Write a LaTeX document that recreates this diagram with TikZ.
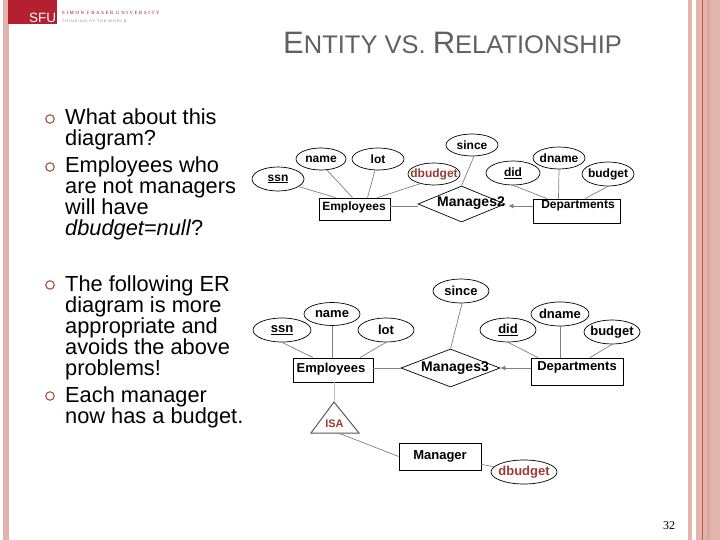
\documentclass[tikz,border=0pt]{standalone}
\usepackage{fontspec}
\setmainfont{Liberation Sans}
\newfontfamily\pageserif{Liberation Serif}
\newfontfamily\logoname[LetterSpace=34]{Liberation Serif}
\newfontfamily\logomotto[LetterSpace=30]{Liberation Sans}
\usetikzlibrary{shapes.geometric, calc, arrows.meta}
\definecolor{barpink}{HTML}{E3B4AE}
\definecolor{bardark}{HTML}{DCA59E}
\definecolor{barred}{HTML}{BF5A45}
\definecolor{sfured}{HTML}{B4202F}
\definecolor{dotbrown}{HTML}{A4533F}
\definecolor{extrared}{HTML}{9C3B33}
\definecolor{linkgray}{HTML}{808080}
\tikzset{
  attr/.style={ellipse, draw, inner xsep=-12pt, inner ysep=-5pt, line width=0.7pt},
  entity/.style={rectangle, draw, inner sep=0pt, line width=0.8pt},
  rel/.style={diamond, draw, inner sep=0pt, line width=0.7pt},
  reltext/.style={inner sep=0pt},
  link/.style={draw=linkgray, line width=0.7pt},
  arrowlink/.style={link, -{Latex[length=5pt, width=5pt]}},
  bullet/.style={circle, draw=dotbrown, line width=1.1pt, minimum size=8.5pt, inner sep=0pt},
  body/.style={anchor=north west, inner sep=0pt, align=left, font=\fontsize{21.8}{21}\selectfont},
  firstfont/.style={font=\fontsize{12}{14}\selectfont\bfseries},
  secondfont/.style={font=\fontsize{13}{15}\selectfont\bfseries},
  relfont/.style={font=\fontsize{14}{16}\selectfont\bfseries}
}
\begin{document}
\begin{tikzpicture}[x=1pt, y=-1pt]
  \useasboundingbox (0, 0) rectangle (720, 540);
  \fill[barpink] (3, 0) rectangle (9, 540);
  \fill[barpink] (688, 0) rectangle (692, 540);
  \fill[barpink] (696, 0) rectangle (720, 540);
  \fill[bardark] (707, 0) rectangle (710, 540);
  \fill[barred] (702, 0) rectangle (703, 540);

  \fill[sfured] (8, 0) rectangle (57, 24);
  \node (sfu) [text=white, inner sep=0pt, font=\fontsize{13.5}{13.5}\selectfont] at (42.5, 17.5) {SFU};
  \node (sfuname) [anchor=west, inner sep=0pt, text=sfured!70!black, font=\logoname\fontsize{4.8}{4.8}\selectfont] at (62, 13) {SIMON FRASER UNIVERSITY};
  \node (sfumotto) [anchor=west, inner sep=0pt, text=gray, font=\logomotto\fontsize{3.6}{3.6}\selectfont] at (62, 21) {THINKING OF THE WORLD};

  \node (title) [anchor=base west, inner sep=0pt, text=black!62] at (283, 54) {\fontsize{31}{31}\selectfont E\fontsize{25.5}{25.5}\selectfont NTITY VS. \fontsize{31}{31}\selectfont R\fontsize{25.5}{25.5}\selectfont ELATIONSHIP};

  \node (dot1) [bullet] at (50, 119) {};
  \node (dot2) [bullet] at (50, 167) {};
  \node (dot3) [bullet] at (50, 285) {};
  \node (dot4) [bullet] at (50, 396) {};
  \node (text1) [body] at (65, 109) {What about this\\diagram?};
  \node (text2) [body] at (65, 156.5) {Employees who\\are not managers\\will have\\\textit{dbudget=null}?};
  \node (text3) [body] at (65, 275.5) {The following ER\\diagram is more\\appropriate and\\avoids the above\\problems!};
  \node (text4) [body] at (65, 386.5) {Each manager\\now has a budget.};

  \begin{scope}[every node/.append style={firstfont}]
    \node (ssna) [attr, minimum width=52pt, minimum height=24pt] at (278, 179) {\underline{ssn}};
    \node (namea) [attr, minimum width=50pt, minimum height=22pt] at (321, 159) {name};
    \node (lota) [attr, minimum width=52pt, minimum height=22pt] at (378, 159) {lot};
    \node (dbudgeta) [attr, minimum width=52pt, minimum height=22pt, text=extrared] at (434, 174) {dbudget};
    \node (sincea) [attr, minimum width=52pt, minimum height=22pt] at (472, 145) {since};
    \node (dida) [attr, minimum width=54pt, minimum height=24pt] at (513, 173) {\underline{did}};
    \node (dnamea) [attr, minimum width=52pt, minimum height=22pt] at (559, 158) {dname};
    \node (budgeta) [attr, minimum width=52pt, minimum height=24pt] at (608, 174) {budget};
    \node (employeesa) [entity, minimum width=71pt, minimum height=22pt] at (354.5, 209) {};
    \node (employeesatext) [reltext] at (354, 207) {Employees};
    \node (managesa) [rel, minimum width=87pt, minimum height=36pt] at (461.5, 204) {};
    \node (managesatext) [reltext, relfont] at (471, 203) {Manages2};
    \node (departmentsa) [entity, minimum width=87pt, minimum height=24pt] at (576.5, 211) {};
    \node (departmentsatext) [reltext] at (578, 206) {Departments};
  \end{scope}
  \coordinate (linka) at (461.5, 206);

  \draw[link] (ssna.-20) -- ([xshift=-19pt]employeesa.north);
  \draw[link] (namea.-62) -- ([xshift=-2pt]employeesa.north);
  \draw[link] (lota.-105) -- ([xshift=13pt]employeesa.north);
  \draw[link] (dbudgeta.-145) -- ([xshift=23pt]employeesa.north);
  \draw[link] (sincea.-80) -- (managesa.north);
  \draw[link] (dida.south) -- ([xshift=-29.5pt]departmentsa.north);
  \draw[link] (dnamea.south) -- ([xshift=-18pt]departmentsa.north);
  \draw[link] (budgeta.south) -- ([xshift=8.5pt]departmentsa.north);
  \draw[link] (employeesa.east |- linka) -- (managesa.west |- linka);
  \draw[arrowlink] (departmentsa.west |- linka) -- ([xshift=3pt]managesa.east |- linka);

  \begin{scope}[every node/.append style={secondfont}]
    \node (ssnb) [attr, minimum width=58pt, minimum height=24pt] at (282, 330) {\underline{ssn}};
    \node (nameb) [attr, minimum width=56pt, minimum height=23pt] at (332, 314) {name};
    \node (lotb) [attr, minimum width=56pt, minimum height=24pt] at (386, 330) {lot};
    \node (sinceb) [attr, minimum width=56pt, minimum height=24pt] at (461, 291) {since};
    \node (didb) [attr, minimum width=56pt, minimum height=24pt] at (508, 330) {\underline{did}};
    \node (dnameb) [attr, minimum width=58pt, minimum height=24pt] at (560, 314) {dname};
    \node (budgetb) [attr, minimum width=56pt, minimum height=24pt] at (612, 332) {budget};
    \node (employeesb) [entity, minimum width=80pt, minimum height=24pt] at (333, 370) {};
    \node (employeesbtext) [reltext] at (331, 369) {Employees};
    \node (managesb) [rel, minimum width=99pt, minimum height=38pt] at (450.5, 368) {};
    \node (managesbtext) [reltext, relfont] at (455, 368) {Manages3};
    \node (departmentsb) [entity, minimum width=92pt, minimum height=27pt] at (577, 371.5) {};
    \node (departmentsbtext) [reltext] at (577, 367) {Departments};
    \node (managerb) [entity, minimum width=82pt, minimum height=27pt] at (440, 456.5) {Manager};
    \node (dbudgetb) [attr, minimum width=66pt, minimum height=24pt, text=extrared] at (524, 472) {dbudget};
  \end{scope}
  \coordinate (isatop) at (334, 402);
  \coordinate (isaleft) at (311, 433);
  \coordinate (isaright) at (359, 433);
  \draw[black!65, line width=1pt] (isatop) -- (isaright) -- (isaleft) -- cycle;
  \node (isa) [inner sep=0pt, text=extrared, font=\fontsize{11}{13}\selectfont\bfseries] at (334.5, 424) {ISA};

  \draw[link] (ssnb.south) -- ([xshift=-20pt]employeesb.north);
  \draw[link] (nameb.south) -- (employeesb.north -| nameb);
  \draw[link] (lotb.south) -- ([xshift=27pt]employeesb.north);
  \draw[link] (sinceb.-85) -- (managesb.north);
  \draw[link] (didb.south) -- ([xshift=-39pt]departmentsb.north);
  \draw[link, line width=1pt] (dnameb.south) -- (departmentsb.north -| dnameb);
  \draw[link] (budgetb.south) -- ([xshift=13pt]departmentsb.north);
  \draw[link] (employeesb.east |- managesb) -- (managesb.west);
  \draw[arrowlink] (departmentsb.west |- managesb) -- (managesb.east);
  \draw[link, line width=1pt, black!25] (employeesb.south -| isatop) -- (isatop);
  \draw[link] ($(isaleft)!0.57!(isaright)$) -- (managerb.west);
  \draw[link] ([yshift=6pt]managerb.south east) -- (dbudgetb.170);

  \node (pagenum) [inner sep=0pt, font=\pageserif\fontsize{12}{12}\selectfont] at (669, 526) {32};
\end{tikzpicture}
\end{document}
